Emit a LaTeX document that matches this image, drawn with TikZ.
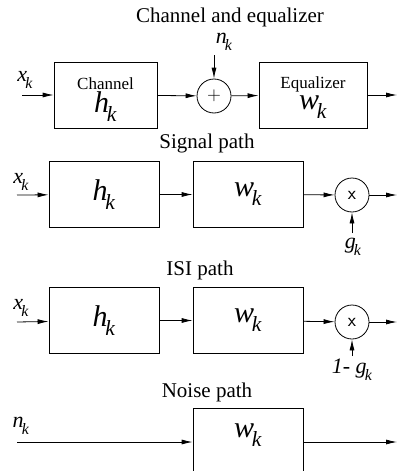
\documentclass[tikz,border=0pt]{standalone}
\usepackage{fontspec}
\setmainfont{Liberation Serif}
\usepackage{graphicx}
\usetikzlibrary{arrows.meta,positioning,calc}
\newcommand{\vsub}[2]{\textit{#1}\kern-0.08em\raisebox{-0.3em}{\scalebox{0.72}{\textit{#2}}}}
\tikzset{
  blk/.style={draw,line width=0.8pt,minimum width=110pt,minimum height=66pt,inner sep=0pt},
  junc/.style={draw,circle,line width=0.8pt,minimum size=34pt,inner sep=0pt,font=\sffamily\fontsize{19}{19}\selectfont},
  sig/.style={line width=0.8pt,-{Latex[length=11pt,width=5pt]}},
  ttl/.style={font=\fontsize{21}{23}\selectfont},
  var/.style={font=\fontsize{22}{24}\selectfont,inner sep=0pt},
  big/.style={font=\fontsize{30}{32}\selectfont},
  small/.style={font=\fontsize{17}{19}\selectfont,inner sep=0pt}
}
\begin{document}
\begin{tikzpicture}[x=1pt,y=-1pt]
\useasboundingbox (0,0) rectangle (402,471);
% channel and equalizer
\node[ttl] (t1) at (230,17) {Channel and equalizer};
\node[blk,minimum width=103pt] (ch) at (105.5,95) {};
\node[small] (chl) at (105.5,84) {Channel};
\node[big,inner sep=0pt] (chh) at (105.5,107) {\vsub{h}{k}};
\node[junc] (add) at (214,96) {+};
\node[blk,minimum width=108pt] (eq) at (313,95) {};
\node[small] (eql) at (313,84) {Equalizer};
\node[big,inner sep=0pt] (eqw) at (313,107) {\vsub{w}{k}};
\coordinate (in1) at (22,95);
\coordinate (out1) at (397,95);
\coordinate (top1) at (214,55);
\node[var] (x1) at (25,80) {\vsub{x}{k}};
\node[var] (n1) at (224,42) {\vsub{n}{k}};
\draw[sig] (in1) -- (ch);
\draw[sig] (ch) -- (add);
\draw[sig] (add) -- (eq);
\draw[sig] (eq) -- (out1);
\draw[sig] (top1) -- (add);
% signal path
\node[ttl] (t2) at (207,143) {Signal path};
\node[blk,big] (h2) at (104,194.5) {\vsub{h}{k}};
\node[blk,big] (w2) at (248,194.5) {\vsub{w}{k}};
\node[junc] (m2) at (352,195) {x};
\coordinate (in2) at (17,195);
\coordinate (out2) at (397,195);
\coordinate (bot2) at (352,233);
\node[var] (x2) at (21,182) {\vsub{x}{k}};
\node[var] (g2) at (353,247) {\vsub{g}{k}};
\draw[sig] (in2) -- (h2);
\draw[sig] (h2) -- (w2);
\draw[sig] (w2) -- (m2);
\draw[sig] (m2) -- (out2);
\draw[sig] (bot2) -- (m2);
% ISI path
\node[ttl] (t3) at (200,270) {ISI path};
\node[blk,big] (h3) at (104,320.5) {\vsub{h}{k}};
\node[blk,big] (w3) at (248,320.5) {\vsub{w}{k}};
\node[junc] (m3) at (352,322) {x};
\coordinate (in3) at (17,322);
\coordinate (out3) at (397,322);
\coordinate (bot3) at (352,356);
\node[var] (x3) at (21,308) {\vsub{x}{k}};
\node[var] (g3) at (352,370) {\textit{1-} \vsub{g}{k}};
\draw[sig] (in3) -- (h3);
\draw[sig] (h3) -- (w3);
\draw[sig] (w3) -- (m3);
\draw[sig] (m3) -- (out3);
\draw[sig] (bot3) -- (m3);
% noise path
\node[ttl] (t4) at (207,392) {Noise path};
\node[blk,big,minimum height=65pt,anchor=north] (w4) at (248,408) {};
\node[big] (w4t) at (248,435) {\vsub{w}{k}};
\coordinate (in4) at (17,442);
\coordinate (out4) at (397,442);
\node[var] (n4) at (21,426) {\vsub{n}{k}};
\draw[sig] (in4) -- (in4 -| w4.west);
\draw[sig] (w4.east |- out4) -- (out4);
\end{tikzpicture}
\end{document}
